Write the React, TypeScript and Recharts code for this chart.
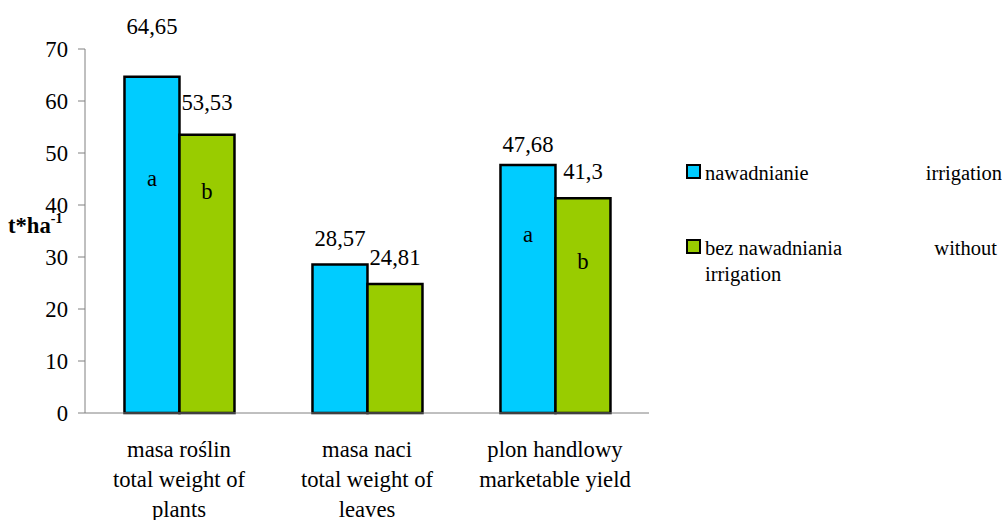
import { Bar, BarChart, Label, LabelList, Legend, XAxis, YAxis } from "recharts";

const CATEGORIES_PL = ["masa roślin", "masa naci", "plon handlowy"];
const CATEGORIES_EN = [["total weight of", "plants"], ["total weight of", "leaves"], ["marketable yield"]];
const IRRIGATION = [64.65, 28.57, 47.68];
const NO_IRRIGATION = [53.53, 24.81, 41.3];
const LETTERS_IRRIGATION = ["a", "", "a"];
const LETTERS_NO_IRRIGATION = ["b", "", "b"];
const Y_TICKS = [0, 10, 20, 30, 40, 50, 60, 70];
const BOUNDARY_TICKS = [0, 1, 2, 3];
const SERIES_PL = ["nawadnianie", "bez nawadniania"];
const SERIES_EN = ["irrigation", "without irrigation"];

const COLORS = ["#00CCFF", "#99CC00"];
const FONT = "Liberation Serif, Times New Roman, serif";
const FS = 22.67;
const AXIS_GREY = "#808080";

// hand-placed label offsets (px from the bar top), as in the original sheet
const VALUE_LIFT = { irr: [51, 26, 21], no: [33, 27, 27] };
const LETTER_DROP = { irr: [103, 0, 71], no: [58, 0, 65] };

const rows = CATEGORIES_PL.map((name, i) => ({
  name,
  irr: IRRIGATION[i],
  no: NO_IRRIGATION[i],
  irrLetter: LETTERS_IRRIGATION[i],
  noLetter: LETTERS_NO_IRRIGATION[i],
}));

function fmt(v: number): string {
  return String(v).replace(".", ",");
}

function CategoryTick(props: any) {
  const { x, y, payload } = props;
  const idx = CATEGORIES_PL.indexOf(payload.value);
  const lines = [payload.value, ...(CATEGORIES_EN[idx] ?? [])];
  return (
    <text x={x} y={y} textAnchor="middle" fontFamily={FONT} fontSize={FS} fill="#000">
      {lines.map((line, i) => (
        <tspan key={i} x={x} dy={i === 0 ? 36 : 30}>
          {line}
        </tspan>
      ))}
    </text>
  );
}

function valueLabel(series: "irr" | "no") {
  return (props: any) => {
    const { x, y, width, value, index } = props;
    return (
      <text
        x={Number(x) + Number(width) / 2}
        y={Number(y) - VALUE_LIFT[series][index] + 8}
        textAnchor="middle"
        fontFamily={FONT}
        fontSize={FS}
        fill="#000"
      >
        {fmt(value)}
      </text>
    );
  };
}

function letterLabel(series: "irr" | "no") {
  return (props: any) => {
    const { x, y, width, value, index } = props;
    if (!value) return null;
    return (
      <text
        x={Number(x) + Number(width) / 2}
        y={Number(y) + LETTER_DROP[series][index] + 6}
        textAnchor="middle"
        fontFamily={FONT}
        fontSize={FS}
        fill="#000"
      >
        {value}
      </text>
    );
  };
}

function YLabel(props: any) {
  const vb = props.viewBox;
  return (
    <text x={vb.x + 8} y={vb.y + vb.height / 2 + 2} fontFamily={FONT} fontSize={FS} fontWeight="bold" fill="#000">
      t*ha
      <tspan fontSize={14} dy={-10}>
        -1
      </tspan>
    </text>
  );
}

function LegendBox() {
  return (
    <div style={{ fontFamily: FONT, fontSize: 20.5, lineHeight: "26px", color: "#000" }}>
      {SERIES_PL.map((pl, i) => {
        const [first, ...rest] = SERIES_EN[i].split(" ");
        return (
          <div key={pl} style={{ display: "flex", alignItems: "flex-start", marginTop: i === 0 ? 0 : 49 }}>
            <div
              style={{
                width: 15,
                height: 15,
                boxSizing: "border-box",
                border: "2px solid #000",
                background: COLORS[i],
                marginTop: 4,
                marginRight: 4,
                flexShrink: 0,
              }}
            />
            <div style={{ flex: 1 }}>
              <div style={{ display: "flex", justifyContent: "space-between", paddingRight: rest.length ? 5 : 0 }}>
                <span>{pl}</span>
                <span>{first}</span>
              </div>
              {rest.length > 0 && <div>{rest.join(" ")}</div>}
            </div>
          </div>
        );
      })}
    </div>
  );
}

export default function App() {
  return (
    <div style={{ position: "absolute", left: 0, top: 0, width: 1002, height: 520, background: "#fff" }}>
      <BarChart
        width={1002}
        height={520}
        data={rows}
        margin={{ top: 49, right: 353, bottom: 0, left: 0 }}
        barCategoryGap="21%"
        barGap={0}
      >
        <XAxis
          xAxisId="bounds"
          type="number"
          domain={[0, 3]}
          ticks={BOUNDARY_TICKS}
          height={0}
          axisLine={false}
          tickSize={8}
          tickLine={{ stroke: AXIS_GREY }}
          tickFormatter={() => ""}
        />
        <XAxis
          dataKey="name"
          height={107}
          tickLine={false}
          axisLine={{ stroke: AXIS_GREY }}
          tick={<CategoryTick />}
          interval={0}
        />
        <YAxis
          width={85}
          domain={[0, 70]}
          ticks={Y_TICKS}
          interval={0}
          tickSize={7}
          tickMargin={10}
          axisLine={{ stroke: AXIS_GREY }}
          tickLine={{ stroke: AXIS_GREY }}
          tick={{ fill: "#000", fontSize: FS, fontFamily: FONT }}
          label={<Label content={YLabel} />}
        />
        <Legend
          layout="horizontal"
          verticalAlign="middle"
          align="center"
          content={() => <LegendBox />}
          wrapperStyle={{ left: 686, top: 160, width: 316 }}
        />
        <Bar dataKey="irr" fill={COLORS[0]} stroke="#000" strokeWidth={2.5} isAnimationActive={false}>
          <LabelList dataKey="irr" content={valueLabel("irr")} />
          <LabelList dataKey="irrLetter" content={letterLabel("irr")} />
        </Bar>
        <Bar dataKey="no" fill={COLORS[1]} stroke="#000" strokeWidth={2.5} isAnimationActive={false}>
          <LabelList dataKey="no" content={valueLabel("no")} />
          <LabelList dataKey="noLetter" content={letterLabel("no")} />
        </Bar>
      </BarChart>
    </div>
  );
}
